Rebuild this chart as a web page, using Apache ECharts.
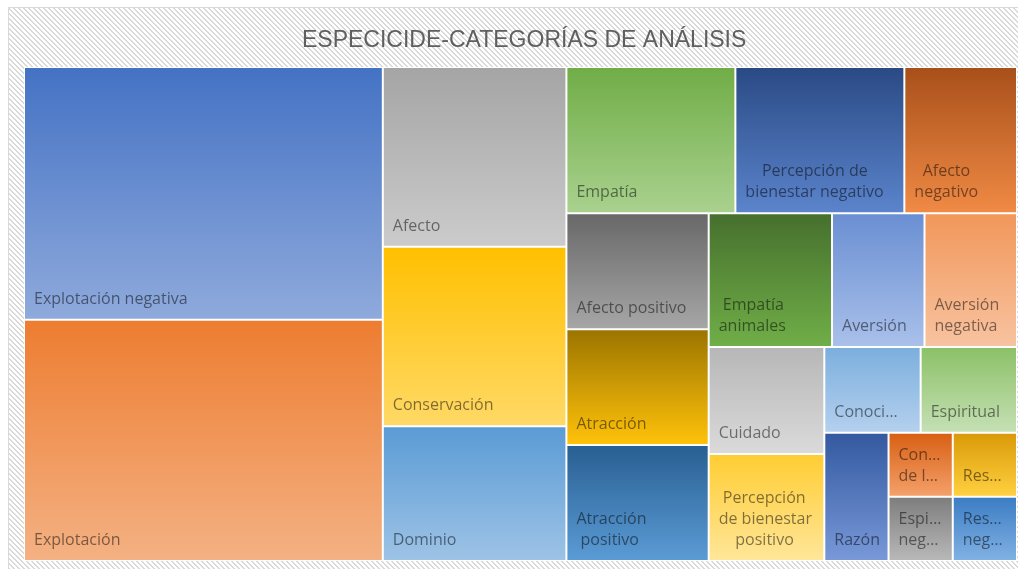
<!DOCTYPE html>
<html><head><meta charset="utf-8">
<script src="https://cdn.jsdelivr.net/npm/echarts@6/dist/echarts.min.js"></script>
<style>html,body{margin:0;padding:0;background:#fff;}#c{width:1018px;height:569px;}</style>
</head><body><div id="c"></div>
<script>
const chartTitle = 'ESPECICIDE-CATEGORÍAS DE ANÁLISIS';
const categories = [
  'Explotación negativa', 'Explotación', 'Afecto', 'Conservación', 'Dominio', 'Empatía',
  'Percepción de\nbienestar negativo', 'Afecto\nnegativo', 'Afecto positivo', 'Atracción',
  'Atracción\npositivo', 'Empatía\nanimales', 'Aversión', 'Aversión\nnegativa', 'Cuidado',
  'Percepción\nde bienestar\npositivo', 'Conoci…', 'Espiritual', 'Razón', 'Con…\nde l…',
  'Espi…\nneg…', 'Res…', 'Res…\nneg…'
];
const values = [22, 21, 8, 8, 6, 6, 6, 4, 4, 4, 4, 4, 3, 3, 3, 3, 2, 2, 2, 1, 1, 1, 1];
const topColors = [
  '#4472C4', '#ED7D31', '#A5A5A5', '#FFC000', '#5B9BD5', '#70AD47',
  '#2A4A84', '#A8501A', '#686868', '#9C7500', '#285F92', '#46702D',
  '#6A8FD2', '#F1975A', '#B7B7B7', '#FFCD33', '#7CAFDD', '#8CC168',
  '#3459A0', '#D86014', '#7E7E7E', '#DA9A08', '#3C7DC4'
];
const bottomColors = [
  '#8FAADC', '#F4B183', '#CBCBCB', '#FFD966', '#9DC3E6', '#A9D18E',
  '#5B84CC', '#F08A45', '#A6A6A6', '#FFC20A', '#5B9BD5', '#70AE48',
  '#A9C0EA', '#F8C3A0', '#DADADA', '#FFE699', '#B4D0EE', '#C5E0B4',
  '#7898D8', '#F4A06A', '#B8B8B8', '#FFD040', '#80B1E3'
];

const FONT_FAMILY = '"Open Sans"';
const FONT_SIZE = 16;
const LINE_H = 21;
const LABEL_COLOR = 'rgba(0,0,0,0.5)';

const measureCtx = document.createElement('canvas').getContext('2d');
measureCtx.font = FONT_SIZE + 'px ' + FONT_FAMILY;
const SPACE_W = measureCtx.measureText(' ').width;

// Centre wrapped lines inside their own text block (block itself stays bottom-left).
function centerLines(text) {
  const lines = text.split('\n');
  if (lines.length < 2) return text;
  const ws = lines.map(l => measureCtx.measureText(l).width);
  const W = Math.max.apply(null, ws);
  return lines.map((l, i) => ' '.repeat(Math.max(0, Math.round((W - ws[i]) / 2 / SPACE_W))) + l).join('\n');
}

function hatch() {
  const n = 5;
  const c = document.createElement('canvas');
  c.width = n; c.height = n;
  const g = c.getContext('2d');
  g.fillStyle = '#ffffff';
  g.fillRect(0, 0, n, n);
  g.fillStyle = '#d9d9d9';
  for (let y = 0; y < n; y++) {
    for (let x = 0; x < n; x++) {
      const d = ((x - y) % n + n) % n;
      if (d === 0 || d === 1) g.fillRect(x, y, 1, 1);
    }
  }
  return c;
}

const data = categories.map((name, i) => ({
  name: name,
  value: values[i],
  itemStyle: {
    color: {
      type: 'linear', x: 0, y: 0, x2: 0, y2: 1,
      colorStops: [{ offset: 0, color: topColors[i] }, { offset: 1, color: bottomColors[i] }]
    }
  }
}));

const chart = echarts.init(document.getElementById('c'), null, { renderer: 'canvas' });
chart.setOption({
  animation: false,
  backgroundColor: '#ffffff',
  title: {
    text: chartTitle,
    left: 302,
    top: 29,
    padding: 0,
    textStyle: { fontFamily: '"Liberation Sans"', fontSize: 23, fontWeight: 'normal', color: '#5f5f5f' }
  },
  graphic: [{
    type: 'rect',
    z: -10,
    silent: true,
    shape: { x: 8.5, y: 7.5, width: 1012, height: 564 },
    style: { fill: { image: hatch(), repeat: 'repeat' }, stroke: '#d9d9d9', lineWidth: 1 }
  }],
  series: [{
    type: 'treemap',
    left: 24,
    top: 67,
    width: 993,
    height: 494,
    squareRatio: 1,
    sort: false,
    roam: false,
    nodeClick: false,
    breadcrumb: { show: false },
    levels: [
      { itemStyle: { borderWidth: 0, gapWidth: 0, borderColor: '#ffffff' } },
      { itemStyle: { borderWidth: 1, gapWidth: 0, borderColor: '#ffffff' } }
    ],
    label: {
      show: true,
      position: 'insideBottomLeft',
      distance: 9,
      padding: 0,
      fontFamily: FONT_FAMILY,
      fontSize: FONT_SIZE,
      lineHeight: LINE_H,
      color: LABEL_COLOR,
      textBorderWidth: 0,
      overflow: 'truncate',
      formatter: p => centerLines(p.name)
    },
    upperLabel: { show: false },
    emphasis: { disabled: true },
    data: data
  }]
});
</script>
</body></html>
